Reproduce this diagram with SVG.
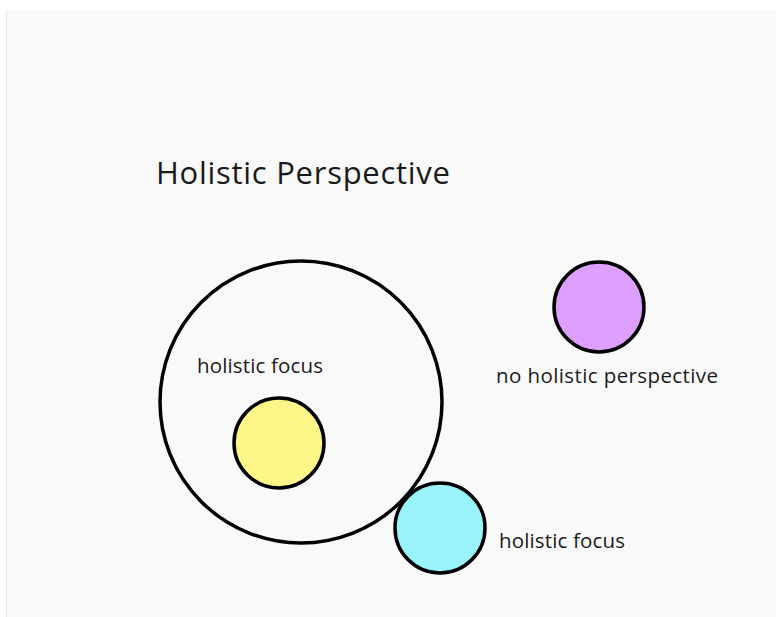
<svg xmlns="http://www.w3.org/2000/svg" width="776" height="617" viewBox="0 0 776 617">
<style>
.t{font-family:"Open Sans","Noto Sans","Liberation Sans",sans-serif;fill:#1a1a1a}
.c{stroke:#000;stroke-width:3.5}
</style>
<rect x="0" y="0" width="776" height="617" fill="#ffffff"/>
<rect x="6" y="10" width="770" height="607" fill="#f9f9f9"/>
<line x1="6.5" y1="10" x2="6.5" y2="617" stroke="#e8e8e8" stroke-width="1"/>
<text class="t" x="156" y="184" font-size="31" textLength="294">Holistic Perspective</text>
<g id="outer">
<circle class="c" cx="301" cy="402" r="141" fill="none"/>
<text class="t" x="197" y="373" font-size="20.5" textLength="126">holistic focus</text>
</g>
<g id="yellow"><circle class="c" cx="279" cy="443" r="45" fill="#fff689"/></g>
<g id="cyan">
<circle class="c" cx="440" cy="528" r="45" fill="#99f5fa"/>
<text class="t" x="499" y="548" font-size="20.5" textLength="126">holistic focus</text>
</g>
<g id="purple">
<circle class="c" cx="599" cy="307" r="45" fill="#dc9ffd"/>
<text class="t" x="496" y="383" font-size="20.5" textLength="222">no holistic perspective</text>
</g>
<g id="connectors"></g>
</svg>
